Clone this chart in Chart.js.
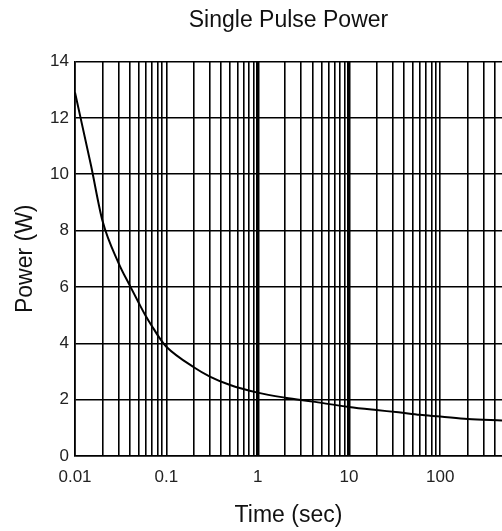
<!DOCTYPE html>
<html>
<head>
<meta charset="utf-8">
<script src="https://cdn.jsdelivr.net/npm/chart.js@4"></script>
<style>
  html, body { margin: 0; padding: 0; background: #fff; }
  #wrap { width: 502px; height: 531px; }
</style>
</head>
<body>
<div id="wrap"><canvas id="c" width="502" height="531"></canvas></div>
<script>
const times  = [0.01, 0.015, 0.02, 0.03, 0.04, 0.05, 0.06, 0.07, 0.08, 0.09, 0.1, 0.2, 0.3, 0.5, 1, 2, 4, 10, 20, 35, 60, 100, 200, 475];
const powers = [12.9, 10.3, 8.35, 6.85, 6.04, 5.43, 4.95, 4.6, 4.3, 4.06, 3.88, 3.15, 2.82, 2.52, 2.25, 2.07, 1.93, 1.74, 1.63, 1.55, 1.46, 1.40, 1.31, 1.26];
const xTickLabels = ['0.01', '0.1', '1', '10', '100'];
const yTicks = [0, 2, 4, 6, 8, 10, 12, 14];
const xMin = 0.01, xMax = 475;

const points = times.map((t, i) => ({ x: t, y: powers[i] }));

// grid ticks at 1..9 per decade
const xGridValues = [];
for (let e = -2; e <= 2; e++) {
  for (let m = 1; m <= 9; m++) {
    const v = +(m * Math.pow(10, e)).toPrecision(3);
    if (v >= xMin && v <= xMax) xGridValues.push(v);
  }
}

const FONT = "'Liberation Sans', Arial, sans-serif";

new Chart(document.getElementById('c'), {
  type: 'line',
  data: {
    datasets: [{
      data: points,
      borderColor: '#000',
      borderWidth: 2,
      pointRadius: 0,
      fill: false,
      cubicInterpolationMode: 'monotone'
    }]
  },
  options: {
    responsive: false,
    animation: false,
    layout: { padding: { left: 0, right: 0, top: 0, bottom: 0 } },
    plugins: {
      legend: { display: false },
      tooltip: { enabled: false },
      title: {
        display: true,
        text: 'Single Pulse Power',
        fullSize: false,
        color: '#111',
        font: { family: FONT, size: 23, weight: 'normal' },
        padding: { top: 7, bottom: 27 }
      }
    },
    scales: {
      x: {
        type: 'logarithmic',
        min: xMin,
        max: xMax,
        afterBuildTicks: (s) => { s.ticks = xGridValues.map(v => ({ value: v })); },
        afterFit: (s) => { s.height = 75; s.paddingRight = 0; s.paddingLeft = 0; },
        ticks: {
          autoSkip: false,
          maxRotation: 0,
          color: '#222',
          padding: 11,
          font: { family: FONT, size: 17 },
          callback: (v) => {
            const lbl = String(+(+v).toPrecision(3));
            return xTickLabels.includes(lbl) ? lbl : '';
          }
        },
        grid: {
          color: '#000',
          lineWidth: (ctx) => {
            const v = ctx.tick ? +(+ctx.tick.value).toPrecision(3) : 0;
            return (v === 1 || v === 10) ? 3.5 : 1.6;
          },
          drawTicks: false
        },
        border: { display: true, color: '#000', width: 1.6 },
        title: {
          display: true,
          text: 'Time (sec)',
          color: '#111',
          font: { family: FONT, size: 23 },
          padding: { top: 0, bottom: 2 }
        }
      },
      y: {
        type: 'linear',
        min: 0,
        max: 14,
        afterBuildTicks: (s) => { s.ticks = yTicks.map(v => ({ value: v })); },
        afterFit: (s) => { s.width = 75; },
        ticks: {
          color: '#222',
          padding: 6,
          font: { family: FONT, size: 17 }
        },
        grid: { color: '#000', lineWidth: 1.6, drawTicks: false },
        border: { display: true, color: '#000', width: 1.6 },
        title: {
          display: true,
          text: 'Power (W)',
          color: '#111',
          font: { family: FONT, size: 23 },
          padding: { top: 12, bottom: 0 }
        }
      }
    }
  }
});
</script>
</body>
</html>
